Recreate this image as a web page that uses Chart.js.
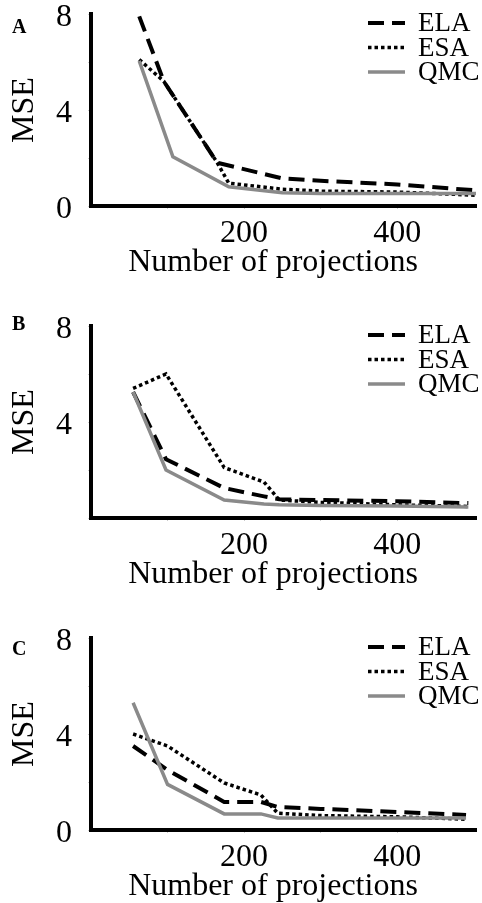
<!DOCTYPE html>
<html lang="en">
<head>
    <meta charset="UTF-8">
    <title>MSE vs number of projections</title>
    <script src="https://cdn.jsdelivr.net/npm/chart.js@4.4.1/dist/chart.umd.min.js"></script>
    <style>
        body { margin: 0; background: #fff; }
        .wrap { position: relative; width: 482px; height: 903px; overflow: hidden; }
        canvas { position: absolute; left: 0; }
    </style>
</head>
<body>
    <div class="wrap">
        <canvas id="panelA" width="482" height="279" style="top:0px"></canvas>
        <canvas id="panelB" width="482" height="279" style="top:312px"></canvas>
        <canvas id="panelC" width="482" height="279" style="top:624px"></canvas>
    </div>

    <script>
        // values (null = no point on that line there)
        const seriesNames = ['ELA', 'ESA', 'QMC'];

        const projA = [63, 95, 107, 165, 180, 250, 300, 400, 503];
        const elaA  = [7.9, 5.2, null, 1.8, null, 1.15, 1.05, 0.9, 0.65];
        const esaA  = [6.1, 5.2, null, 1.8, 0.95, 0.7, 0.62, 0.58, 0.45];
        const qmcA  = [6.05, null, 2.05, null, 0.8, 0.55, 0.52, 0.52, 0.52];

        const projB = [55, 98, 174, 226, 246, 300, 400, 493];
        const elaB  = [5.25, 2.45, 1.25, 0.9, 0.78, 0.75, 0.7, 0.62];
        const esaB  = [5.4, 6.0, 2.1, 1.5, 0.75, 0.65, 0.55, 0.48];
        const qmcB  = [5.25, 2.0, 0.75, 0.58, 0.55, 0.52, 0.5, 0.46];

        const projC = [55, 100, 174, 222, 244, 300, 400, 490];
        const elaC  = [3.5, 2.5, 1.17, 1.17, 0.96, 0.88, 0.75, 0.63];
        const esaC  = [4.0, 3.5, 1.96, 1.46, 0.7, 0.6, 0.55, 0.45];
        const qmcC  = [5.3, 1.9, 0.67, 0.67, 0.5, 0.5, 0.5, 0.5];

        const xTicks = [100, 200, 300, 400];
        const yTicks = [0, 2, 4, 6, 8];
        const xTitle = 'Number of projections';

        const serif = "'Liberation Serif', 'DejaVu Serif', serif";

        // legend on the right, x title and panel letter, drawn after the chart
        const panelDecor = {
            id: 'panelDecor',
            afterDraw(chart, args, opts) {
                const ctx = chart.ctx;
                ctx.save();
                chart.data.datasets.forEach((ds, i) => {
                    const y = 23 + i * 24.5;
                    ctx.strokeStyle = ds.borderColor;
                    ctx.lineWidth = ds.borderWidth;
                    ctx.setLineDash(ds.borderDash || []);
                    ctx.beginPath();
                    ctx.moveTo(368, y);
                    ctx.lineTo(405, y);
                    ctx.stroke();
                    ctx.setLineDash([]);
                    ctx.fillStyle = '#000';
                    ctx.font = '27px ' + serif;
                    ctx.textBaseline = 'middle';
                    ctx.textAlign = 'left';
                    ctx.fillText(ds.label, 418, y + 1);
                });
                // axis title sits a little left of the plot centre in the original
                ctx.font = '32px ' + serif;
                ctx.textAlign = 'center';
                ctx.textBaseline = 'middle';
                ctx.fillText(xTitle, 273, 263);

                ctx.font = 'bold 20px ' + serif;
                ctx.textAlign = 'left';
                ctx.textBaseline = 'alphabetic';
                ctx.fillText(opts.letter, 12, opts.letterY);
                ctx.restore();
            }
        };

        function pts(xs, ys) {
            return xs.map((x, i) => ({ x: x, y: ys[i] }));
        }

        function makePanel(id, letter, letterY, xs, ela, esa, qmc, showZero) {
            const datasets = [
                { label: seriesNames[0], data: pts(xs, ela), borderColor: '#000', borderWidth: 4,
                  borderDash: [16, 8], order: 2 },
                { label: seriesNames[1], data: pts(xs, esa), borderColor: '#000', borderWidth: 3.5,
                  borderDash: [3.5, 3], order: 1 },
                { label: seriesNames[2], data: pts(xs, qmc), borderColor: '#8a8a8a', borderWidth: 3.5,
                  order: 0 }
            ];
            datasets.forEach(d => {
                d.pointRadius = 0;
                d.fill = false;
                d.tension = 0;
                d.spanGaps = true;
                d.borderCapStyle = 'butt';
            });

            return new Chart(document.getElementById(id), {
                type: 'line',
                data: { datasets: datasets },
                options: {
                    responsive: false,
                    animation: false,
                    layout: { padding: { top: 14, right: 6, left: 0, bottom: 0 } },
                    plugins: {
                        legend: { display: false },
                        tooltip: { enabled: false },
                        panelDecor: { letter: letter, letterY: letterY }
                    },
                    scales: {
                        x: {
                            type: 'linear',
                            min: 0,
                            max: 503,
                            afterBuildTicks: s => { s.ticks = xTicks.map(v => ({ value: v })); },
                            afterFit: s => { s.height = 73; s.paddingLeft = 0; s.paddingRight = 0; },
                            border: { color: '#000', width: 4 },
                            grid: { drawOnChartArea: false, tickLength: 3, color: '#ccc' },
                            ticks: {
                                padding: 5,
                                maxRotation: 0,
                                color: '#000',
                                font: { family: serif, size: 32 },
                                callback: v => (v === 200 || v === 400) ? v : ''
                            }
                        },
                        y: {
                            min: 0,
                            max: 8,
                            afterBuildTicks: s => { s.ticks = yTicks.map(v => ({ value: v })); },
                            afterFit: s => { s.width = 91; s.paddingTop = 0; s.paddingBottom = 0; },
                            border: { color: '#000', width: 4 },
                            grid: { drawOnChartArea: false, tickLength: 3, color: '#ccc' },
                            ticks: {
                                padding: 16,
                                labelOffset: 4,
                                color: '#000',
                                font: { family: serif, size: 32 },
                                callback: v => (v % 4 === 0 && (v !== 0 || showZero)) ? v : ''
                            },
                            title: {
                                display: true,
                                text: 'MSE',
                                color: '#000',
                                font: { family: serif, size: 32, lineHeight: 1 },
                                padding: { top: 9, bottom: 0 }
                            }
                        }
                    }
                },
                plugins: [panelDecor]
            });
        }

        makePanel('panelA', 'A', 33, projA, elaA, esaA, qmcA, true);
        makePanel('panelB', 'B', 18, projB, elaB, esaB, qmcB, false);
        makePanel('panelC', 'C', 31, projC, elaC, esaC, qmcC, true);
    </script>
</body>
</html>
